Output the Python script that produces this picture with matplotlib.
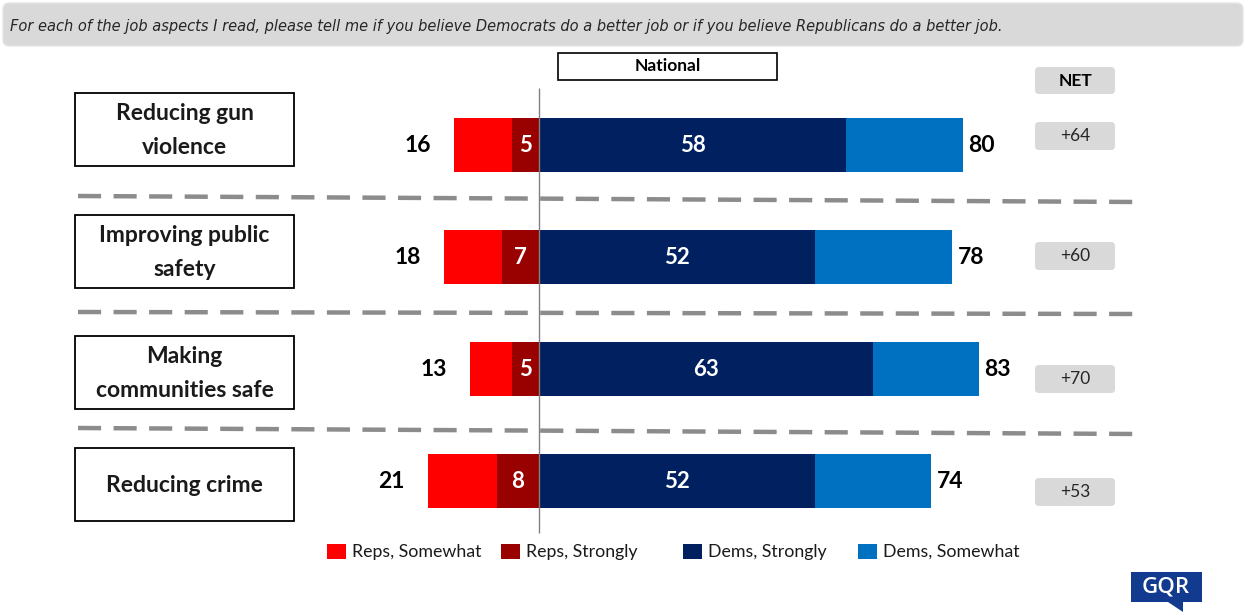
import numpy as np
import matplotlib.pyplot as plt
from matplotlib.patches import Rectangle, FancyBboxPatch, Polygon

plt.rcParams['font.family'] = ['Lato', 'DejaVu Sans']

# data
categories = ["Reducing gun\nviolence", "Improving public\nsafety",
              "Making\ncommunities safe", "Reducing crime"]
reps_somewhat = [11, 11, 8, 13]
reps_strongly = [5, 7, 5, 8]
dems_strongly = [58, 52, 63, 52]
dems_somewhat = [22, 26, 20, 22]
reps_total = [16, 18, 13, 21]
dems_total = [80, 78, 83, 74]
net = ["+64", "+60", "+70", "+53"]
legend_labels = ["Reps, Somewhat", "Reps, Strongly", "Dems, Strongly", "Dems, Somewhat"]
colors = ["#FF0000", "#990000", "#002060", "#0070C0"]
question = ("For each of the job aspects I read, please tell me if you believe "
            "Democrats do a better job or if you believe Republicans do a better job.")

W, H = 1247, 612
fig = plt.figure(figsize=(W / 100, H / 100), dpi=100)

# pixel layer for the decorations
deco = fig.add_axes([0, 0, 1, 1])
deco.set_xlim(0, W)
deco.set_ylim(H, 0)
deco.axis('off')

# data layer for the bars
ax = fig.add_axes([0, 0, 1, 1])
ax.patch.set_alpha(0)
ax.axis('off')
px_unit = 5.3      # pixels per percentage point
x_zero = 539       # pixel of the zero line
row_gap = 112      # pixels between rows
y_first = 145      # pixel of first row centre
ax.set_xlim(-x_zero / px_unit, (W - x_zero) / px_unit)
ax.set_ylim((H - y_first) / row_gap, -y_first / row_gap)

y = np.arange(len(categories))
rs = np.array(reps_strongly)
rw = np.array(reps_somewhat)
ds = np.array(dems_strongly)
dw = np.array(dems_somewhat)
bh = 54 / row_gap
ax.barh(y, -rs, left=0, height=bh, color=colors[1])
ax.barh(y, -rw, left=-rs, height=bh, color=colors[0])
ax.barh(y, ds, left=0, height=bh, color=colors[2])
ax.barh(y, dw, left=ds, height=bh, color=colors[3])
ax.vlines(0, (88 - y_first) / row_gap, (533 - y_first) / row_gap, color='#808080', lw=1)

for i in range(len(y)):
    ax.text(-rs[i] / 2, y[i], str(rs[i]), color='white', fontsize=16,
            fontweight='bold', ha='center', va='center')
    ax.text(ds[i] / 2, y[i], str(ds[i]), color='white', fontsize=16,
            fontweight='bold', ha='center', va='center')
    ax.text(-reps_total[i] - 4.3, y[i], str(reps_total[i]), fontsize=16.5,
            fontweight='bold', ha='right', va='center')
    ax.text(dems_total[i] + 1.0, y[i], str(dems_total[i]), fontsize=16.5,
            fontweight='bold', ha='left', va='center')

# question banner
deco.add_patch(FancyBboxPatch((3, 3), 1240, 43, boxstyle='round,pad=0,rounding_size=6',
                              fc='#D9D9D9', ec='#E6E6E6', lw=1))
deco.text(10, 26, question, fontsize=10.5, style='italic', color='#262626',
          ha='left', va='center', family=['Liberation Sans Narrow', 'DejaVu Sans'])

# National header
deco.add_patch(Rectangle((558, 53), 219, 27, fc='white', ec='black', lw=1.2))
deco.text(668, 66, "National", fontsize=12.5, fontweight='bold', ha='center', va='center')

# NET column
deco.add_patch(FancyBboxPatch((1035, 67), 80, 27, boxstyle='round,pad=0,rounding_size=4',
                              fc='#D9D9D9', ec='none'))
deco.text(1075, 81, "NET", fontsize=12.5, fontweight='bold', ha='center', va='center')
net_y = [136, 256, 379, 492]
for ny, n in zip(net_y, net):
    deco.add_patch(FancyBboxPatch((1035, ny - 14), 80, 28, boxstyle='round,pad=0,rounding_size=4',
                                  fc='#D9D9D9', ec='none'))
    deco.text(1075, ny, n, fontsize=12.5, ha='center', va='center', color='#262626')

# category boxes
box_top = [93, 215, 336, 448]
for bt, cat in zip(box_top, categories):
    deco.add_patch(Rectangle((75, bt), 219, 73, fc='white', ec='black', lw=1.3))
    deco.text(184.5, bt + 37.5, cat, fontsize=16.5, fontweight='bold', ha='center',
              va='center', linespacing=1.75, color='#1A1A1A')

# dashed separators
for y_left, y_right in [(196, 202), (312, 314), (428, 434)]:
    deco.plot([78, 1137], [y_left, y_right], color='#8C8C8C', lw=3.2,
              dashes=(5.2, 2.8), solid_capstyle='butt')

# legend
leg_x = [327, 501, 683, 858]
for lx, lab, c in zip(leg_x, legend_labels, colors):
    deco.add_patch(Rectangle((lx, 544), 19, 15, fc=c, ec='none'))
    deco.text(lx + 25, 551.5, lab, fontsize=12.8, ha='left', va='center', color='#1A1A1A')

# logo
deco.add_patch(Polygon([(1131, 572), (1202, 572), (1202, 602), (1183, 602), (1183, 612),
                        (1168, 602), (1131, 602)], closed=True, fc='#123A8F', ec='none'))
deco.text(1166, 587, "GQR", fontsize=16, color='white', ha='center', va='center',
          fontweight='semibold', family=['Open Sans', 'DejaVu Sans'])

plt.savefig('out.png', dpi=100)
